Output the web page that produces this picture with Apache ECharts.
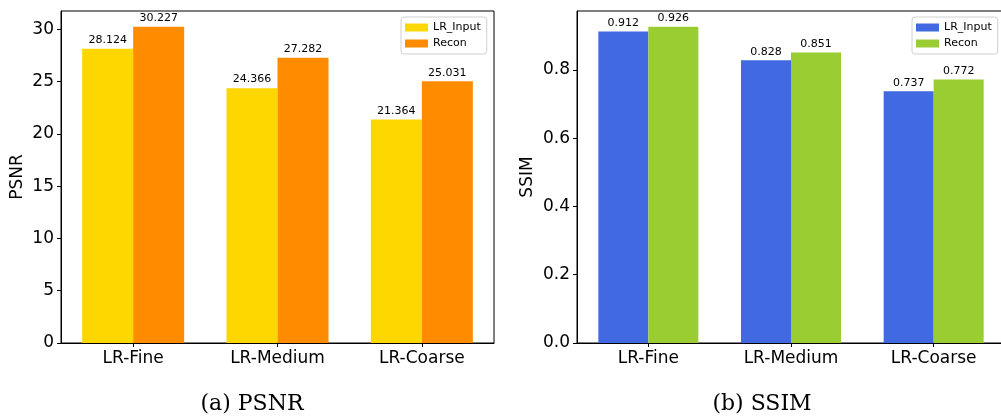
<!DOCTYPE html>
<html><head><meta charset="utf-8">
<script src="https://cdn.jsdelivr.net/npm/echarts@6/dist/echarts.min.js"></script>
<style>
html,body{margin:0;padding:0;background:#fff;width:1001px;height:417px;overflow:hidden;}
#a{position:absolute;left:0;top:0;width:500px;height:417px;}
#b{position:absolute;left:500px;top:0;width:501px;height:417px;}
</style></head>
<body><div id="a"></div><div id="b"></div>
<script>
const categories = ['LR-Fine', 'LR-Medium', 'LR-Coarse'];
const seriesNames = ['LR_Input', 'Recon'];
const psnrInput = [28.124, 24.366, 21.364];
const psnrRecon = [30.227, 27.282, 25.031];
const ssimInput = [0.912, 0.828, 0.737];
const ssimRecon = [0.926, 0.851, 0.772];
const psnrTicks = [0, 5, 10, 15, 20, 25, 30];
const ssimTicks = [0.0, 0.2, 0.4, 0.6, 0.8];
const psnrMax = 31.74;
const ssimMax = 0.9723;

const FONT = 'DejaVu Sans';

function makeOption(cfg) {
  return {
    animation: false,
    textStyle: { fontFamily: FONT },
    grid: { left: cfg.gridLeft, top: 11, width: cfg.gridWidth, height: 332, show: true,
            containLabel: false, outerBoundsMode: 'none',
            borderColor: '#000', borderWidth: 1, backgroundColor: 'transparent' },
    legend: {
      orient: 'vertical', left: cfg.legendLeft, top: 17,
      data: seriesNames,
      icon: 'rect', itemWidth: 23, itemHeight: 8, itemGap: 3,
      textStyle: { fontFamily: FONT, fontSize: 11, color: '#000', lineHeight: 13 },
      borderColor: '#d0d0d0', borderWidth: 1, borderRadius: 3,
      backgroundColor: '#fff', padding: [4, 6, 4, 4]
    },
    xAxis: {
      type: 'category', data: categories,
      axisLine: { show: true, lineStyle: { color: '#000', width: 1 } },
      axisTick: { show: true, alignWithLabel: true, length: 4, lineStyle: { color: '#000' } },
      axisLabel: { fontFamily: FONT, fontSize: 17, color: '#000', margin: 7 }
    },
    yAxis: {
      type: 'value', min: 0, max: cfg.max,
      name: cfg.yName, nameLocation: 'middle', nameGap: cfg.nameGap, nameRotate: 90,
      nameMoveOverlap: false,
      nameTextStyle: { fontFamily: FONT, fontSize: 17, color: '#000' },
      axisLine: { show: true, lineStyle: { color: '#000', width: 1 } },
      splitLine: { show: false },
      axisTick: { show: true, length: 4, lineStyle: { color: '#000' }, customValues: cfg.ticks },
      axisLabel: { fontFamily: FONT, fontSize: 17, color: '#000', margin: 7,
                   customValues: cfg.ticks, formatter: cfg.fmt }
    },
    series: [
      { name: seriesNames[0], type: 'bar', data: cfg.d1, barWidth: cfg.barWidth, barGap: '0%',
        itemStyle: { color: cfg.c1 },
        label: { show: true, position: 'top', distance: 3, fontFamily: FONT, fontSize: 11, color: '#000',
                 formatter: p => cfg.lf(p.value) } },
      { name: seriesNames[1], type: 'bar', data: cfg.d2, barWidth: cfg.barWidth, barGap: '0%',
        itemStyle: { color: cfg.c2 },
        label: { show: true, position: 'top', distance: 3, fontFamily: FONT, fontSize: 11, color: '#000',
                 formatter: p => cfg.lf(p.value) } }
    ],
    graphic: [{
      type: 'text', x: cfg.capX, y: 404,
      style: { text: cfg.caption, font: '22px "DejaVu Serif"', fill: '#000',
               textAlign: 'center', textVerticalAlign: 'middle' }
    }]
  };
}

const chartA = echarts.init(document.getElementById('a'), null, { renderer: 'canvas' });
chartA.setOption(makeOption({
  gridLeft: 61, gridWidth: 433, max: psnrMax, ticks: psnrTicks, fmt: v => String(v),
  yName: 'PSNR', nameGap: 35, legendLeft: 401, d1: psnrInput, d2: psnrRecon, barWidth: 51,
  c1: '#FFD700', c2: '#FF8C00', lf: v => v.toFixed(3), caption: '(a) PSNR', capX: 252
}));
const chartB = echarts.init(document.getElementById('b'), null, { renderer: 'canvas' });
chartB.setOption(makeOption({
  gridLeft: 77, gridWidth: 428, max: ssimMax, ticks: ssimTicks, fmt: v => v.toFixed(1),
  yName: 'SSIM', nameGap: 41, legendLeft: 412, d1: ssimInput, d2: ssimRecon, barWidth: 50,
  c1: '#4169E1', c2: '#9ACD32', lf: v => v.toFixed(3), caption: '(b) SSIM', capX: 262
}));
</script></body></html>
